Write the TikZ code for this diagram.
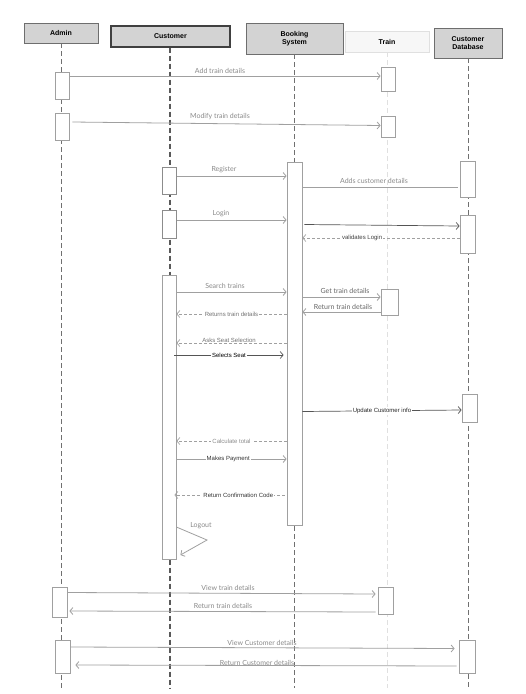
\documentclass[tikz,border=0pt]{standalone}
\usepackage{fontspec}
\setmainfont{Liberation Sans}
\newfontfamily\lato{Lato}
\usetikzlibrary{arrows.meta}
\definecolor{hdrfill}{HTML}{D3D3D3}
\definecolor{hdrdraw}{HTML}{6E6E6E}
\definecolor{lifec}{HTML}{707070}
\definecolor{msgc}{HTML}{A0A0A0}
\definecolor{darkmsg}{HTML}{555555}
\definecolor{lblc}{HTML}{8A8A8A}
\begin{document}
\begin{tikzpicture}[x=1pt,y=-1pt,
  hdr/.style={draw=hdrdraw,fill=hdrfill,line width=0.9pt,font=\fontsize{7}{8}\selectfont\bfseries,align=center,inner sep=0pt},
  act/.style={draw=msgc,fill=white,line width=0.8pt,minimum width=14pt,inner sep=0pt},
  life/.style={draw=lifec,line width=0.8pt,dash pattern=on 5pt off 3pt},
  msg/.style={draw=msgc,line width=0.8pt,-{Straight Barb[length=3pt,width=7pt]}},
  dmsg/.style={draw=darkmsg,line width=0.7pt,-{Straight Barb[length=3pt,width=7pt]}},
  ret/.style={draw=msgc,line width=0.7pt,dash pattern=on 3pt off 2pt,-{Straight Barb[length=3pt,width=7pt]}},
  lbl/.style={font=\lato\fontsize{7}{8}\selectfont,text=lblc,inner sep=1pt},
  slbl/.style={font=\fontsize{6}{7}\selectfont,fill=white,inner sep=1pt},
]
\useasboundingbox[fill=white] (0,0) rectangle (526,694);

% headers
\node[hdr,minimum width=74pt,minimum height=20pt] (admin) at (61,33) {Admin};
\node[hdr,minimum width=119pt,minimum height=21pt,draw=black!75,line width=1.3pt] (cust) at (170.5,36.5) {Customer};
\node[hdr,minimum width=97pt,minimum height=31pt] (book) at (294.5,38.5) {Booking\\System};
\node[hdr,minimum width=84pt,minimum height=21pt,fill=black!3,draw=black!12] (train) at (387,41.5) {Train};
\node[hdr,minimum width=68pt,minimum height=30pt] (db) at (468,43) {Customer\\Database};

% lifeline ends
\coordinate (adminE) at (61,688);
\coordinate (custE) at (170,688);
\coordinate (bookE) at (294,688);
\coordinate (trainE) at (387,688);
\coordinate (dbE) at (468,688);

\draw[life] (admin.south) -- (adminE);
\draw[life,draw=black!65,line width=1.2pt] (cust.south -| custE) -- (custE);
\draw[life] (book.south -| bookE) -- (bookE);
\draw[life,draw=black!12] (train.south) -- (trainE);
\draw[life] (db.south) -- (dbE);

% activations
\node[act,minimum height=27pt] (ad1) at (62,85.5) {};
\node[act,minimum height=27pt] (ad2) at (62,126.5) {};
\node[act,minimum height=24pt] (tr1) at (388,79) {};
\node[act,minimum height=21pt] (tr2) at (388,126.5) {};
\node[act,minimum height=27pt,draw=black!45,line width=1pt] (cu1) at (169,180.5) {};
\node[act,minimum height=363pt,minimum width=15pt] (bk) at (294.5,343.5) {};
\node[act,minimum height=36pt,minimum width=15pt] (db1) at (467.5,179) {};
\node[act,minimum height=28pt,draw=black!45,line width=1pt] (cu2) at (169,224) {};
\node[act,minimum height=38pt,minimum width=15pt] (db2) at (467.5,234) {};
\node[act,minimum height=284pt] (cu3) at (169,417) {};
\node[act,minimum height=26pt,minimum width=17pt] (tr3) at (389.5,302) {};
\node[act,minimum height=28pt,minimum width=15pt] (db3) at (469.5,408) {};
\node[act,minimum height=30pt,minimum width=15pt] (ad3) at (59.5,602) {};
\node[act,minimum height=27pt,minimum width=15pt] (tr4) at (385.5,600.5) {};
\node[act,minimum height=33pt,minimum width=15pt] (ad4) at (62.5,656.5) {};
\node[act,minimum height=33pt,minimum width=16pt] (db4) at (467,656.5) {};

% messages
\draw[msg] (ad1.east |- 0,76) -- (tr1.west |- 0,76);
\node[lbl] (m1) at (220,71) {Add train details};
\draw[msg] ([xshift=3pt]ad2.east |- 0,122) -- (tr2.west |- 0,125.5);
\node[lbl] (m2) at (220,117) {Modify train details};

\draw[msg] (cu1.east |- 0,176) -- (bk.west |- 0,176);
\node[lbl] (m3) at (224,170) {Register};
\draw[draw=msgc,line width=0.8pt] (bk.east |- 0,187) -- ([xshift=-2pt]db1.west |- 0,187);
\node[lbl] (m4) at (374,181) {Adds customer details};
\draw[msg] (cu2.east |- 0,220) -- (bk.west |- 0,220);
\node[lbl] (m5) at (221,214) {Login};
\draw[dmsg] ([xshift=2pt]bk.east |- 0,224.5) -- (db2.west |- 0,226);
\draw[ret] (db2.west |- 0,238) -- (bk.east |- 0,238)
  node[slbl,pos=0.62,text=black!75] (m7) {validates Login};

\draw[msg] (cu3.east |- 0,292) -- (bk.west |- 0,292);
\node[lbl] (m8) at (225,286) {Search trains};
\draw[msg] (bk.east |- 0,297) -- (tr3.west |- 0,297);
\node[lbl,text=black!60] (m9) at (345,291) {Get train details};
\draw[msg] (tr3.west |- 0,312) -- (bk.east |- 0,312);
\node[lbl,text=black!60] (m10) at (343,307) {Return train details};
\draw[ret] (bk.west |- 0,314) -- (cu3.east |- 0,314)
  node[slbl,pos=0.5,text=black!55] (m11) {Returns train details};
\draw[ret] (bk.west |- 0,343) -- (cu3.east |- 0,343);
\node[slbl,text=black!55] (m12) at (229,340) {Asks Seat Selection};
\draw[dmsg] ([xshift=-2pt]cu3.east |- 0,355) -- ([xshift=-3pt]bk.west |- 0,355)
  node[slbl,pos=0.5,text=black] (m13) {Selects Seat};

\draw[dmsg] (bk.east |- 0,411.5) -- (db3.west |- 0,410)
  node[slbl,pos=0.5,text=black!85] (m14) {Update Customer info};
\draw[ret] (bk.west |- 0,441) -- (cu3.east |- 0,441)
  node[slbl,pos=0.5,text=black!45] (m15) {Calculate total};
\draw[msg] (cu3.east |- 0,459) -- (bk.west |- 0,459)
  node[slbl,pos=0.47,text=black!80] (m16) {Makes Payment};
\draw[ret] ([xshift=-2pt]bk.west |- 0,495) -- ([xshift=-2pt]cu3.east |- 0,495)
  node[slbl,pos=0.42,text=black!80] (m17) {Return Confirmation Code};

\coordinate (lo1) at (207,540);
\draw[msg] (cu3.east |- 0,527) -- (lo1) -- ([xshift=4pt]cu3.east |- 0,555);
\node[lbl] (m18) at (201,526) {Logout};

\draw[msg] (ad3.east |- 0,592.5) -- ([xshift=-2pt]tr4.west |- 0,594);
\node[lbl] (m19) at (228,588) {View train details};
\draw[msg] ([xshift=-2pt]tr4.west |- 0,612) -- ([xshift=2pt]ad3.east |- 0,611);
\node[lbl] (m20) at (223,606) {Return train details};
\draw[msg] (ad4.east |- 0,647) -- ([xshift=-4pt]db4.west |- 0,648.5);
\node[lbl] (m21) at (262,643) {View Customer details};
\draw[msg] ([xshift=-2pt]db4.west |- 0,666) -- ([xshift=5pt]ad4.east |- 0,665);
\node[lbl] (m22) at (257,663) {Return Customer details};
\end{tikzpicture}
\end{document}
